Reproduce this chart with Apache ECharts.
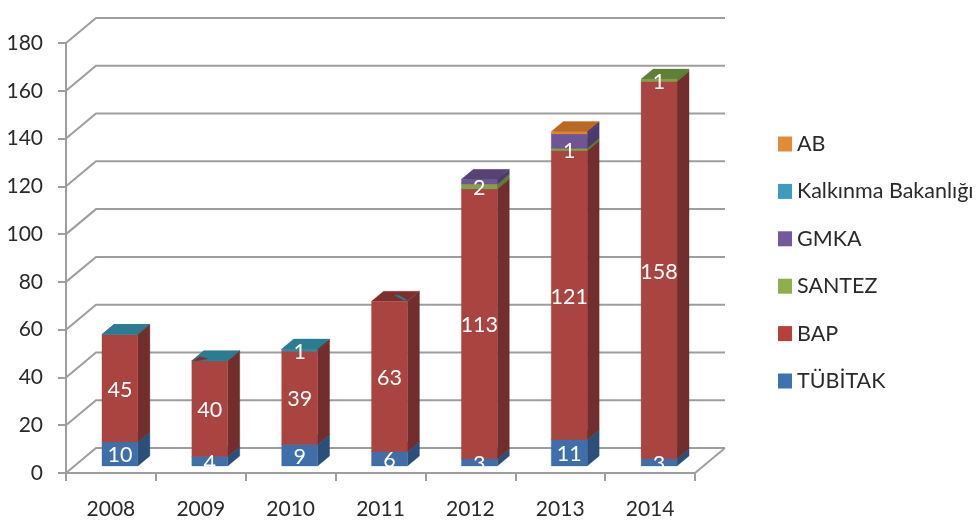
<!DOCTYPE html>
<html><head><meta charset="utf-8">
<script src="https://cdn.jsdelivr.net/npm/echarts@6/dist/echarts.min.js"></script>
<style>html,body{margin:0;padding:0;background:#fff}#c{width:978px;height:524px}</style>
</head><body><div id="c"></div>
<script>
const years = ['2008','2009','2010','2011','2012','2013','2014'];
const yTicks = [0,20,40,60,80,100,120,140,160,180];
const tubitak = [10,4,9,6,3,11,3];
const bap = [45,40,39,63,113,121,158];
const santez = [0,0,0,0,2,1,1];
const gmka = [0,0,0,0,2,6,0];
const kalkinma = [0.1,0.1,1,0,0,0,0];
const ab = [0,0,0,0,0,1,0];
const tubitakLabels = [10,4,9,6,3,11,3];
const bapLabels = [45,40,39,63,113,121,158];
const santezLabels = [null,null,null,null,2,1,1];
const kalkinmaLabels = [null,null,1,null,null,null,null];

const stackDefs = [
  {name:'TÜBİTAK', values:tubitak, labels:tubitakLabels, front:'#3f6fa8', side:'#2b4f78', top:'#335c8e', legend:'#4172b0'},
  {name:'BAP', values:bap, labels:bapLabels, front:'#aa4440', side:'#722e2c', top:'#7c302e', legend:'#b5403c'},
  {name:'SANTEZ', values:santez, labels:santezLabels, front:'#84a04c', side:'#5f7b36', top:'#5f8038', legend:'#8fae4f'},
  {name:'GMKA', values:gmka, labels:null, front:'#6f5596', side:'#4d3a6c', top:'#574373', legend:'#75589c'},
  {name:'Kalkınma Bakanlığı', values:kalkinma, labels:kalkinmaLabels, front:'#2f8a9e', side:'#722e2c', top:'#2a7d90', legend:'#3f9bbb'},
  {name:'AB', values:ab, labels:null, front:'#e0862f', side:'#4d3a6c', top:'#b86a20', legend:'#e08a3c'}
];
const WALL_DX = 30, WALL_DY = 25, BAR_DX = 9, BAR_DY = 7, DEPTH_X = 12, DEPTH_Y = 10;
const LINE = {stroke:'#9e9e9e', lineWidth:2, fill:null};

const cumBelow = stackDefs.map((d,k) => years.map((_,i) => {
  let s = 0; for (let j=0;j<k;j++) s += stackDefs[j].values[i]; return s;
}));

function poly(points, fill){ return {type:'polygon', shape:{points}, style:{fill, stroke:fill, lineWidth:0.3}}; }

function renderSeg(k){
  const d = stackDefs[k];
  return function(params, api){
    const i = api.value(0), v = api.value(1);
    const patches = [];
    const c0 = api.coord([i, cumBelow[k][i]]);
    const c1 = api.coord([i, cumBelow[k][i] + v]);
    const w = api.size([1,0])[0] * 0.4;
    const xl = c0[0] + BAR_DX - w/2, xr = xl + w;
    const yb = c0[1] - BAR_DY, yt = c1[1] - BAR_DY;
    if (d.name === 'Kalkınma Bakanlığı') {
      if (i === 1) patches.push(poly([[xl+1,yt],[xl+8,yt-4],[xl+16,yt-2],[xl+6,yt]], '#7c302e'));
      if (i === 3) patches.push(poly([[xl+23,yt-6],[xl+27,yt-6],[xl+36,yt-1],[xl+32,yt-1]], '#2a7d90'));
    }
    if (!(v > 0)) return patches.length ? {type:'group', children:patches} : null;
    return {type:'group', children:[
      poly([[xr,yb],[xr+DEPTH_X,yb-DEPTH_Y],[xr+DEPTH_X,yt-DEPTH_Y],[xr,yt]], d.side),
      poly([[xl,yt],[xl+DEPTH_X,yt-DEPTH_Y],[xr+DEPTH_X,yt-DEPTH_Y],[xr,yt]], d.top),
      poly([[xl,yb],[xr,yb],[xr,yt],[xl,yt]], d.front)
    ].concat(patches)};
  };
}

const series = [];
series.push({
  type:'custom', silent:true, z:1, data:yTicks.map(v=>[v]),
  encode:{y:0},
  renderItem(params, api){
    const v = api.value(0), cs = params.coordSys;
    const y = api.coord([0, v])[1], xf = cs.x, xe = cs.x + cs.width;
    const kids = [{type:'polyline', shape:{points:[[xf,y],[xf+WALL_DX,y-WALL_DY],[xe+WALL_DX,y-WALL_DY]]}, style:LINE}];
    if (v === 0) kids.push({type:'polyline', shape:{points:[[xe,y],[xe+WALL_DX,y-WALL_DY]]}, style:LINE});
    return {type:'group', children:kids};
  }
});
stackDefs.forEach((d,k) => {
  series.push({
    name:d.name, type:'custom', silent:true, z:5+k,
    itemStyle:{color:d.legend},
    data:years.map((_,i)=>[i,d.values[i]]),
    encode:{x:0,y:1},
    renderItem:renderSeg(k)
  });
});
stackDefs.forEach((d,k) => {
  if (!d.labels) return;
  series.push({
    type:'custom', silent:true, z:20,
    data:years.map((_,i)=>[i,d.values[i]]),
    encode:{x:0,y:1},
    renderItem(params, api){
      const i = api.value(0), lab = d.labels[i];
      if (lab == null) return null;
      const c = api.coord([i, cumBelow[k][i] + d.values[i]/2]);
      return {type:'text', style:{text:String(lab), x:c[0]+BAR_DX, y:c[1]-BAR_DY+1.5, align:'center', verticalAlign:'middle', fill:'#fff', font:'21.5px Lato'}};
    }
  });
});

const chart = echarts.init(document.getElementById('c'), null, {renderer:'canvas'});
chart.setOption({
  animation:false,
  backgroundColor:'#fff',
  grid:{left:66, top:43, width:629, height:430, containLabel:false},
  xAxis:{type:'category', data:years, boundaryGap:true,
    axisLine:{show:true, lineStyle:{color:'#9e9e9e', width:2}},
    axisTick:{show:true, length:8, alignWithLabel:false, lineStyle:{color:'#9e9e9e', width:2}},
    axisLabel:{color:'#2a2a2a', fontFamily:'Lato', fontSize:21, margin:26}},
  yAxis:{type:'value', min:0, max:180, interval:20, splitLine:{show:false},
    axisLine:{show:true, lineStyle:{color:'#9e9e9e', width:2}},
    axisTick:{show:true, length:8, lineStyle:{color:'#9e9e9e', width:2}},
    axisLabel:{color:'#2a2a2a', fontFamily:'Lato', fontSize:21, margin:23}},
  legend:{orient:'vertical', left:778, top:133, padding:0, itemWidth:14, itemHeight:15, itemGap:25.4, icon:'rect',
    data:stackDefs.map(d=>d.name).reverse(),
    textStyle:{color:'#2a2a2a', fontFamily:'Lato', fontSize:21.5, lineHeight:16}, selectedMode:false},
  series
});
</script></body></html>
